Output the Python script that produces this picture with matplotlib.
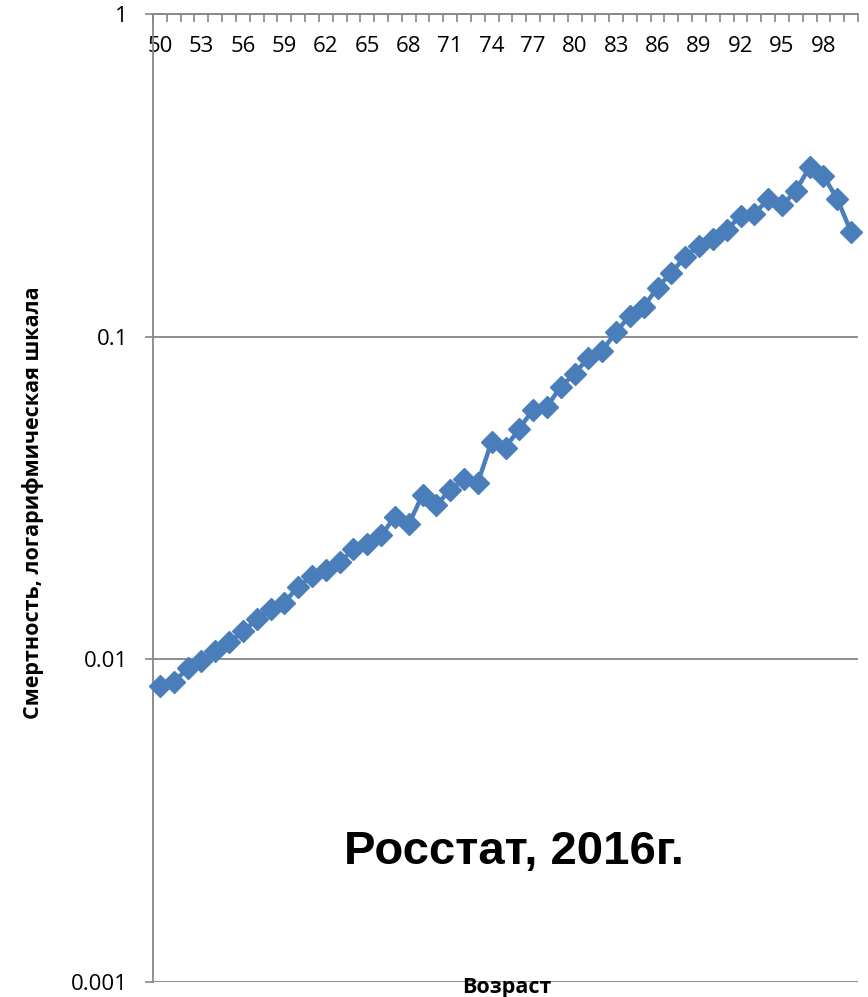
import matplotlib
matplotlib.use("Agg")
import matplotlib.pyplot as plt
import numpy as np

ages = list(range(50, 101))
mortality = [0.00824, 0.00849, 0.00938, 0.00986, 0.0106, 0.0113, 0.0122, 0.0133, 0.0143, 0.0150,
             0.0168, 0.0181, 0.0189, 0.0200, 0.0219, 0.0227, 0.0242, 0.0277, 0.0262, 0.0324,
             0.0300, 0.0336, 0.0361, 0.0353, 0.0473, 0.0453, 0.0519, 0.0594, 0.0607, 0.0700,
             0.0768, 0.0861, 0.0905, 0.1036, 0.116, 0.124, 0.142, 0.158, 0.177, 0.191,
             0.201, 0.214, 0.237, 0.240, 0.267, 0.255, 0.283, 0.336, 0.315, 0.267,
             0.211]
y_ticks = [0.001, 0.01, 0.1, 1]
y_ticklabels = ["0.001", "0.01", "0.1", "1"]
x_label = "Возраст"
y_label = "Смертность, логарифмическая шкала"
annotation = "Росстат, 2016г."

W, H = 868, 997
fig = plt.figure(figsize=(W / 100, H / 100), dpi=100)
ax = fig.add_axes([153 / W, 1 - 982 / H, (858 - 153) / W, (982 - 14) / H])

axis_color = "#868686"
line_color = "#4A7EBB"
tick_font = "Open Sans"

x = np.arange(len(ages))
ax.plot(x, mortality, color=line_color, lw=3.2, marker="D", ms=11,
        markerfacecolor=line_color, markeredgecolor=line_color, zorder=3, clip_on=False)

ax.set_yscale("log")
ax.set_ylim(0.001, 1)
ax.set_xlim(-0.5, len(ages) - 0.5)

# y axis
ax.set_yticks(y_ticks)
ax.set_yticklabels(y_ticklabels, fontsize=16, family=tick_font)
ax.yaxis.set_minor_locator(matplotlib.ticker.NullLocator())
ax.tick_params(axis="y", which="major", direction="out", length=6, width=1.2,
               color=axis_color, pad=12)
ax.grid(axis="y", which="major", color=axis_color, lw=1.3)
ax.set_axisbelow(True)

# x axis on top
ax.xaxis.tick_top()
ax.set_xticks(np.arange(-0.5, len(ages) + 0.5, 1))
ax.set_xticklabels([])
ax.tick_params(axis="x", which="major", direction="in", length=6, width=1.2,
               color=axis_color, top=True, bottom=False)
label_idx = list(range(0, len(ages), 3))
ax.set_xticks(label_idx, minor=True)
ax.set_xticklabels([str(ages[i]) for i in label_idx], minor=True,
                   fontsize=16, family=tick_font)
ax.tick_params(axis="x", which="minor", length=0, top=True, bottom=False,
               labeltop=True, labelbottom=False, direction="in", pad=-31)

for s in ["right", "bottom"]:
    ax.spines[s].set_visible(False)
for s in ["left", "top"]:
    ax.spines[s].set_color(axis_color)
    ax.spines[s].set_linewidth(1.3)

fig.text(33 / W, 1 - 503 / H, y_label, rotation=90, ha="center", va="center",
         fontsize=15.5, fontweight="bold", family=tick_font)
fig.text(507 / W, 1 - 987 / H, x_label, ha="center", va="center",
         fontsize=15.5, fontweight="bold", family=tick_font)
fig.text(514 / W, 1 - 852 / H, annotation, ha="center", va="center",
         fontsize=34, fontweight="bold", family="Liberation Sans")

fig.savefig("out.png", dpi=100)
